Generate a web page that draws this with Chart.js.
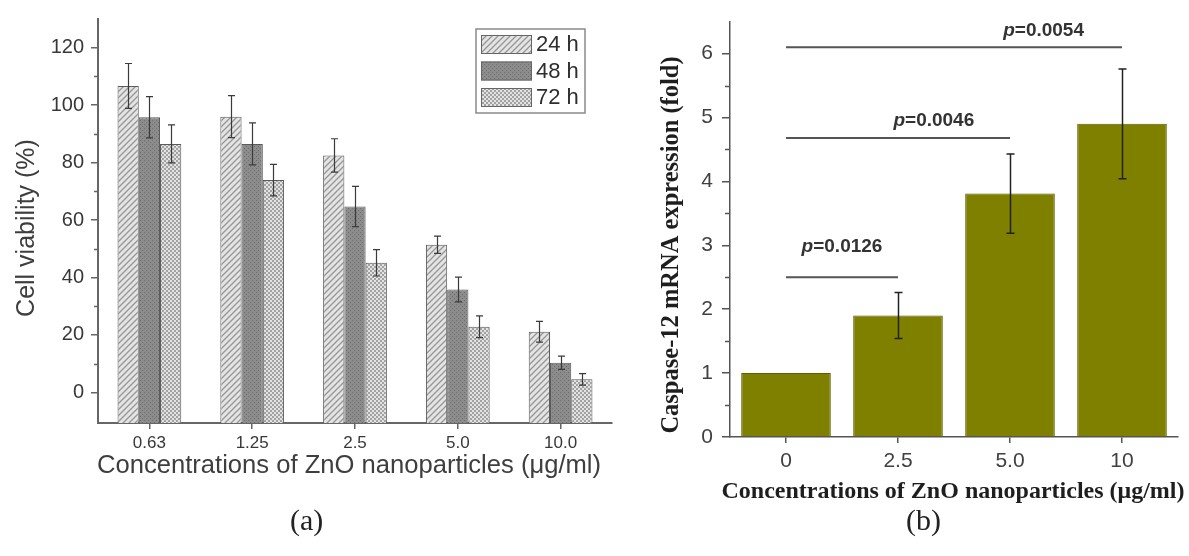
<!DOCTYPE html>
<html>
<head>
<meta charset="utf-8">
<script src="https://cdn.jsdelivr.net/npm/chart.js@4.4.0/dist/chart.umd.min.js"></script>
<style>
  html, body { margin: 0; padding: 0; background: #fff; }
  #wrap { position: relative; width: 1189px; height: 556px; overflow: hidden; }
  canvas { position: absolute; top: 0; }
  #chartA { left: 0; }
  #chartB { left: 595px; }
  .panel { position: absolute; top: 503px; font-family: "Liberation Serif", serif; font-size: 30px; color: #222; }
</style>
</head>
<body>
<div id="wrap">
  <canvas id="chartA" width="625" height="556"></canvas>
  <canvas id="chartB" width="594" height="556"></canvas>
  <div class="panel" style="left:290px">(a)</div>
  <div class="panel" style="left:906px">(b)</div>
</div>
<script>
// ---- data, panel (a)
const concA = ['0.63', '1.25', '2.5', '5.0', '10.0'];
const timeLabels = ['24 h', '48 h', '72 h'];
const viab24 = [106.7, 96.0, 82.5, 51.4, 21.1];
const viab48 = [95.8, 86.5, 64.7, 35.8, 10.3];
const viab72 = [86.5, 73.9, 45.1, 22.8, 4.5];
const err24 = [7.8, 7.3, 5.8, 3.0, 3.6];
const err48 = [7.2, 7.3, 7.0, 4.3, 2.3];
const err72 = [6.6, 5.5, 4.6, 3.8, 2.0];
const yTicksA = [0, 20, 40, 60, 80, 100, 120];
const yMinorA = [10, 30, 50, 70, 90, 110];

// ---- data, panel (b)
const concB = ['0', '2.5', '5.0', '10'];
const caspase = [1.0, 1.9, 3.81, 4.9];
const caspaseErr = [0, 0.36, 0.62, 0.86];
const yTicksB = [0, 1, 2, 3, 4, 5, 6];
const yMinorB = [0.5, 1.5, 2.5, 3.5, 4.5, 5.5];
const pValues = ['0.0126', '0.0046', '0.0054'];
const pFrom = [0, 0, 0];
const pTo = [1, 2, 3];
const pLevel = [2.5, 4.68, 6.1];
const pTextAt = [0.5, 1.32, 2.3];
const pTextLevel = [2.97, 4.95, 6.36];

const SANS = '"Liberation Sans", Arial, sans-serif';
const SERIF = '"Liberation Serif", "Times New Roman", serif';
const xTitle = 'Concentrations of ZnO nanoparticles (μg/ml)';

// fill textures for the grayscale bars
function texture(ctx, kind) {
  const c = document.createElement('canvas');
  const t = c.getContext('2d');
  if (kind === 'diag') {
    c.width = c.height = 6;
    t.fillStyle = '#e4e4e4'; t.fillRect(0, 0, 6, 6);
    t.strokeStyle = '#969696'; t.lineWidth = 1.3;
    t.beginPath();
    t.moveTo(0, 6); t.lineTo(6, 0);
    t.moveTo(-3, 3); t.lineTo(3, -3);
    t.moveTo(3, 9); t.lineTo(9, 3);
    t.stroke();
  } else if (kind === 'dots') {
    c.width = c.height = 4;
    t.fillStyle = '#8c8c8c'; t.fillRect(0, 0, 4, 4);
    t.fillStyle = '#6c6c6c'; t.fillRect(0, 0, 1, 1); t.fillRect(2, 2, 1, 1);
  } else {
    c.width = c.height = 4;
    t.fillStyle = '#e2e2e2'; t.fillRect(0, 0, 4, 4);
    t.fillStyle = '#a2a2a2'; t.fillRect(0, 0, 2, 2); t.fillRect(2, 2, 2, 2);
  }
  return ctx.createPattern(c, 'repeat');
}

// symmetric error bars on every bar
const errorBars = {
  id: 'errorBars',
  afterDatasetsDraw(chart, args, opts) {
    const ctx = chart.ctx, y = chart.scales.y;
    ctx.save();
    ctx.strokeStyle = opts.color;
    ctx.lineWidth = opts.width;
    chart.data.datasets.forEach((ds, i) => {
      chart.getDatasetMeta(i).data.forEach((bar, j) => {
        const e = opts.errors[i][j];
        if (!e) return;
        const top = y.getPixelForValue(ds.data[j] + e);
        const bot = y.getPixelForValue(ds.data[j] - e);
        const x = Math.round(bar.x) + 0.5;
        ctx.beginPath();
        ctx.moveTo(x, top); ctx.lineTo(x, bot);
        ctx.moveTo(x - opts.cap, top); ctx.lineTo(x + opts.cap, top);
        ctx.moveTo(x - opts.cap, bot); ctx.lineTo(x + opts.cap, bot);
        ctx.stroke();
      });
    });
    ctx.restore();
  }
};

// short minor ticks on the value axis
const minorTicks = {
  id: 'minorTicks',
  afterDraw(chart, args, opts) {
    const ctx = chart.ctx, y = chart.scales.y;
    ctx.save();
    ctx.strokeStyle = opts.color;
    ctx.lineWidth = opts.width;
    ctx.beginPath();
    opts.values.forEach(v => {
      const py = Math.round(y.getPixelForValue(v)) + 0.5;
      ctx.moveTo(y.right - opts.length, py);
      ctx.lineTo(y.right, py);
    });
    ctx.stroke();
    ctx.restore();
  }
};

// axis titles placed where the original figure has them
const axisTitles = {
  id: 'axisTitles',
  afterDraw(chart, args, opts) {
    const ctx = chart.ctx;
    opts.items.forEach(t => {
      ctx.save();
      ctx.translate(t.x, t.y);
      if (t.vertical) ctx.rotate(-Math.PI / 2);
      ctx.font = t.font;
      ctx.fillStyle = t.color;
      ctx.textAlign = 'center';
      ctx.textBaseline = 'middle';
      ctx.fillText(t.text, 0, 0);
      ctx.restore();
    });
  }
};

// boxed legend in the upper right of panel (a)
const boxLegend = {
  id: 'boxLegend',
  afterDraw(chart) {
    const ctx = chart.ctx;
    const left = 476, top = 29, w = 109, h = 84;
    ctx.save();
    ctx.strokeStyle = '#8a8a8a';
    ctx.lineWidth = 1.5;
    ctx.strokeRect(left, top, w, h);
    ctx.font = '22px ' + SANS;
    ctx.textBaseline = 'middle';
    chart.data.datasets.forEach((ds, i) => {
      const ry = top + 6 + i * 26.5;
      ctx.fillStyle = ds.backgroundColor;
      ctx.fillRect(left + 5, ry, 51, 19);
      ctx.strokeStyle = '#666';
      ctx.lineWidth = 1;
      ctx.strokeRect(left + 5.5, ry + 0.5, 50, 18);
      ctx.fillStyle = '#2e2e2e';
      ctx.fillText(ds.label, left + 60, ry + 10);
    });
    ctx.restore();
  }
};

// bracket lines with p values for panel (b)
const sigLines = {
  id: 'sigLines',
  afterDraw(chart) {
    const ctx = chart.ctx, x = chart.scales.x, y = chart.scales.y;
    ctx.save();
    ctx.strokeStyle = '#555';
    ctx.lineWidth = 2;
    pValues.forEach((p, i) => {
      const py = y.getPixelForValue(pLevel[i]);
      ctx.beginPath();
      ctx.moveTo(x.getPixelForValue(pFrom[i]), py);
      ctx.lineTo(x.getPixelForValue(pTo[i]), py);
      ctx.stroke();
      const tx = x.getPixelForValue(pTextAt[i]);
      const ty = y.getPixelForValue(pTextLevel[i]);
      ctx.font = 'italic bold 19px ' + SANS;
      const wp = ctx.measureText('p').width;
      ctx.font = 'bold 19px ' + SANS;
      const wr = ctx.measureText('=' + p).width;
      const x0 = tx - (wp + wr) / 2;
      ctx.fillStyle = '#333';
      ctx.textBaseline = 'middle';
      ctx.font = 'italic bold 19px ' + SANS;
      ctx.fillText('p', x0, ty);
      ctx.font = 'bold 19px ' + SANS;
      ctx.fillText('=' + p, x0 + wp, ty);
    });
    ctx.restore();
  }
};

const ctxA = document.getElementById('chartA').getContext('2d');
new Chart(ctxA, {
  type: 'bar',
  data: {
    labels: concA,
    datasets: [
      { label: timeLabels[0], data: viab24, backgroundColor: texture(ctxA, 'diag') },
      { label: timeLabels[1], data: viab48, backgroundColor: texture(ctxA, 'dots') },
      { label: timeLabels[2], data: viab72, backgroundColor: texture(ctxA, 'check') }
    ]
  },
  options: {
    responsive: false,
    animation: false,
    layout: { padding: { left: 0, right: 13, top: 17, bottom: 0 } },
    datasets: {
      bar: { base: -10.7, borderColor: '#5a5a5a', borderWidth: 1, borderSkipped: 'start',
             categoryPercentage: 0.62, barPercentage: 1.0 }
    },
    plugins: {
      legend: { display: false },
      tooltip: { enabled: false },
      errorBars: { errors: [err24, err48, err72], color: '#3a3a3a', width: 1.2, cap: 3.5 },
      minorTicks: { values: yMinorA, length: 4, color: '#666', width: 1.5 },
      axisTitles: { items: [
        { text: xTitle, x: 349, y: 466, font: '25.6px ' + SANS, color: '#3e3e3e' },
        { text: 'Cell viability (%)', x: 27, y: 228, vertical: true, font: '25px ' + SANS, color: '#3e3e3e' }
      ] }
    },
    scales: {
      x: {
        grid: { display: true, drawOnChartArea: false, drawTicks: true, tickLength: 6, offset: false, color: '#666', lineWidth: 1.5 },
        border: { display: true, color: '#666', width: 2 },
        ticks: { color: '#383838', font: { family: SANS, size: 17 }, padding: 4, maxRotation: 0 },
        afterFit(s) { s.height = 133; }
      },
      y: {
        min: -10.7,
        max: 130,
        afterBuildTicks(s) { s.ticks = yTicksA.map(v => ({ value: v })); },
        grid: { display: true, drawOnChartArea: false, drawTicks: true, tickLength: 7, color: '#666', lineWidth: 1.5 },
        border: { display: true, color: '#666', width: 2 },
        ticks: { color: '#383838', font: { family: SANS, size: 20 }, padding: 7 },
        afterFit(s) { s.width = 98; }
      }
    }
  },
  plugins: [errorBars, minorTicks, boxLegend, axisTitles]
});

const ctxB = document.getElementById('chartB').getContext('2d');
new Chart(ctxB, {
  type: 'bar',
  data: {
    labels: concB,
    datasets: [
      { label: 'Caspase-12', data: caspase, backgroundColor: '#7f7f00', borderColor: '#5c5c00', borderWidth: 1 }
    ]
  },
  options: {
    responsive: false,
    animation: false,
    layout: { padding: { left: 0, right: 11, top: 20, bottom: 0 } },
    datasets: { bar: { categoryPercentage: 1.0, barPercentage: 0.8 } },
    plugins: {
      legend: { display: false },
      tooltip: { enabled: false },
      errorBars: { errors: [caspaseErr], color: '#222', width: 1.5, cap: 4 },
      minorTicks: { values: yMinorB, length: 5, color: '#555', width: 1.5 },
      axisTitles: { items: [
        { text: xTitle, x: 358, y: 492, font: 'bold 24px ' + SERIF, color: '#1e1e1e' },
        { text: 'Caspase-12 mRNA expression (fold)', x: 77, y: 245, vertical: true, font: 'bold 24.5px ' + SERIF, color: '#1e1e1e' }
      ] }
    },
    scales: {
      x: {
        grid: { display: true, drawOnChartArea: false, drawTicks: true, tickLength: 6, offset: false, color: '#555', lineWidth: 1.5 },
        border: { display: true, color: '#555', width: 1.5 },
        ticks: { color: '#404040', font: { family: SANS, size: 21 }, padding: 6, maxRotation: 0 },
        afterFit(s) { s.height = 119; }
      },
      y: {
        min: 0,
        max: 6.5,
        afterBuildTicks(s) { s.ticks = yTicksB.map(v => ({ value: v })); },
        grid: { display: true, drawOnChartArea: false, drawTicks: true, tickLength: 8, color: '#555', lineWidth: 1.5 },
        border: { display: true, color: '#555', width: 1.5 },
        ticks: { color: '#404040', font: { family: SANS, size: 21 }, padding: 9 },
        afterFit(s) { s.width = 135; }
      }
    }
  },
  plugins: [errorBars, minorTicks, sigLines, axisTitles]
});
</script>
</body>
</html>
